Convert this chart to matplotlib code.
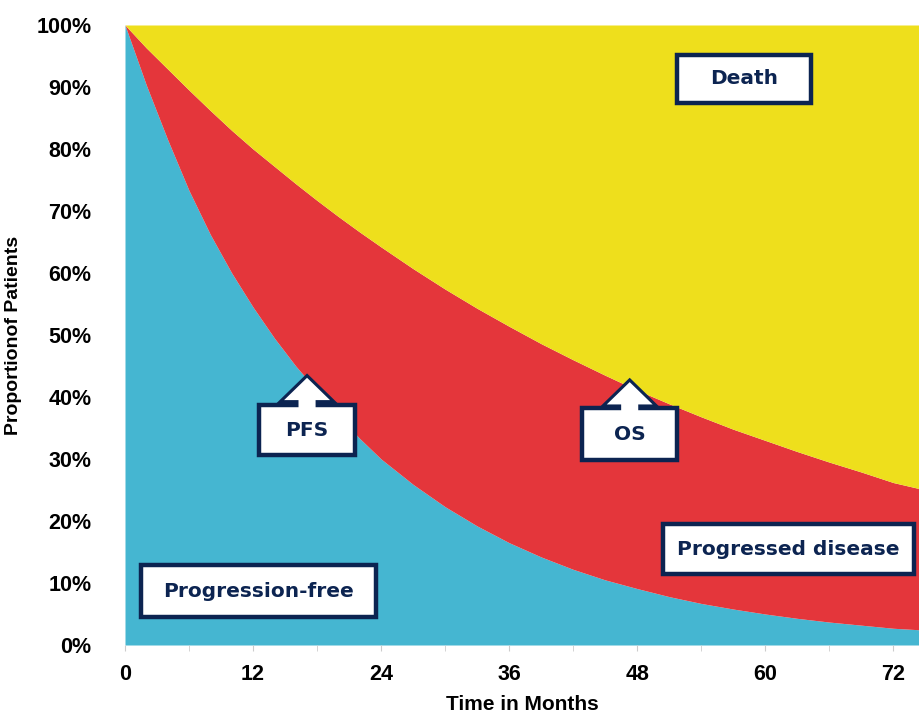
import matplotlib
matplotlib.use("Agg")
import matplotlib.pyplot as plt
from matplotlib.patches import Rectangle, FancyArrow
from matplotlib.ticker import PercentFormatter, MultipleLocator
from matplotlib.font_manager import FontProperties

# ---- data ----
months = [0, 2, 4, 6, 8, 10, 12, 14, 16, 18, 20, 22, 24, 27, 30, 33, 36, 39,
          42, 45, 48, 51, 54, 57, 60, 63, 66, 69, 72, 75]
pfs = [100, 90.3, 81.5, 73.3, 66.2, 60, 54.5, 49.5, 45, 41, 37, 33.3, 30,
       25.9, 22.3, 19.2, 16.5, 14.2, 12.2, 10.5, 9.1, 7.8, 6.7, 5.8, 5, 4.3,
       3.7, 3.2, 2.7, 2.4]
os_ = [100, 96.3, 92.9, 89.5, 86.2, 83, 80, 77.2, 74.4, 71.7, 69.1, 66.6,
       64.2, 60.7, 57.4, 54.3, 51.4, 48.6, 46, 43.5, 41.1, 38.9, 36.8, 34.8,
       33, 31.2, 29.5, 27.9, 26.2, 25]
x_ticks = [0, 12, 24, 36, 48, 60, 72]
y_ticks = [0, 10, 20, 30, 40, 50, 60, 70, 80, 90, 100]

# region labels: text, box (x0, x1, y0, y1) in data units
region_labels = [
    ("Death", (51.75, 64.3, 87.4, 95.2)),
    ("Progressed disease", (50.4, 73.9, 11.45, 19.5)),
    ("Progression-free", (1.5, 23.5, 4.5, 12.9)),
]
# curve callouts: text, box, arrow tip y
callouts = [
    ("PFS", (12.56, 21.56, 30.6, 38.7), 43.1),
    ("OS", (42.84, 51.75, 29.8, 38.2), 42.4),
]

BLUE = "#45B6D1"
RED = "#E4363B"
YELLOW = "#EEDF1C"
NAVY = "#0C2451"

fig = plt.figure(figsize=(9.2, 7.16), dpi=100)
ax = fig.add_axes([125 / 920, 71 / 716, 795 / 920, 620 / 716])

ax.fill_between(months, 0, pfs, color=BLUE, lw=0, zorder=1)
ax.fill_between(months, pfs, os_, color=RED, lw=0, zorder=1)
ax.fill_between(months, os_, 100, color=YELLOW, lw=0, zorder=1)

ax.set_xlim(0, 74.5)
ax.set_ylim(0, 100)
for s in ax.spines.values():
    s.set_visible(False)

ax.set_xticks(x_ticks)
ax.xaxis.set_minor_locator(MultipleLocator(6))
ax.set_yticks(y_ticks)
ax.yaxis.set_major_formatter(PercentFormatter(decimals=0))
tick_font = dict(family="Liberation Sans", weight="bold", size=15.5)
ax.set_xticklabels([str(v) for v in x_ticks], **tick_font)
for lab in ax.get_yticklabels():
    lab.set_fontproperties(FontProperties(**tick_font))
ax.tick_params(axis="x", which="both", length=4, color="#cccccc", pad=10,
               direction="out")
ax.tick_params(axis="y", length=0, pad=24)

ax.set_xlabel("Time in Months", family="Liberation Sans", weight="bold",
              size=15)
ax.xaxis.set_label_coords(0.5, -0.08)
ax.set_ylabel("Proportionof Patients", family="Liberation Sans",
              weight="bold", size=14)
ax.yaxis.set_label_coords(-0.13, 0.5)

label_font = dict(family="DejaVu Sans", weight="bold", size=14.5, color=NAVY)

for text, (x0, x1, y0, y1) in region_labels:
    ax.add_patch(Rectangle((x0, y0), x1 - x0, y1 - y0, facecolor="white",
                           edgecolor=NAVY, lw=3.2, zorder=4))
    ax.text((x0 + x1) / 2, (y0 + y1) / 2, text, ha="center", va="center",
            zorder=6, **label_font)

for text, (x0, x1, y0, y1), tip in callouts:
    xc = (x0 + x1) / 2
    kw = dict(width=1.6, head_width=4.3, head_length=3.6,
              length_includes_head=True)
    ax.add_patch(FancyArrow(xc, y1 - 0.5, 0, tip - (y1 - 0.5),
                            facecolor="white", edgecolor=NAVY, lw=4.5,
                            zorder=3, **kw))
    ax.add_patch(Rectangle((x0, y0), x1 - x0, y1 - y0, facecolor="white",
                           edgecolor=NAVY, lw=3.2, zorder=4))
    ax.add_patch(FancyArrow(xc, y1 - 1.2, 0, tip - (y1 - 1.2),
                            facecolor="white", edgecolor="none", lw=0,
                            zorder=5, **kw))
    ax.text(xc, (y0 + y1) / 2, text, ha="center", va="center", zorder=6,
            **label_font)

fig.savefig("out.png", dpi=100)
